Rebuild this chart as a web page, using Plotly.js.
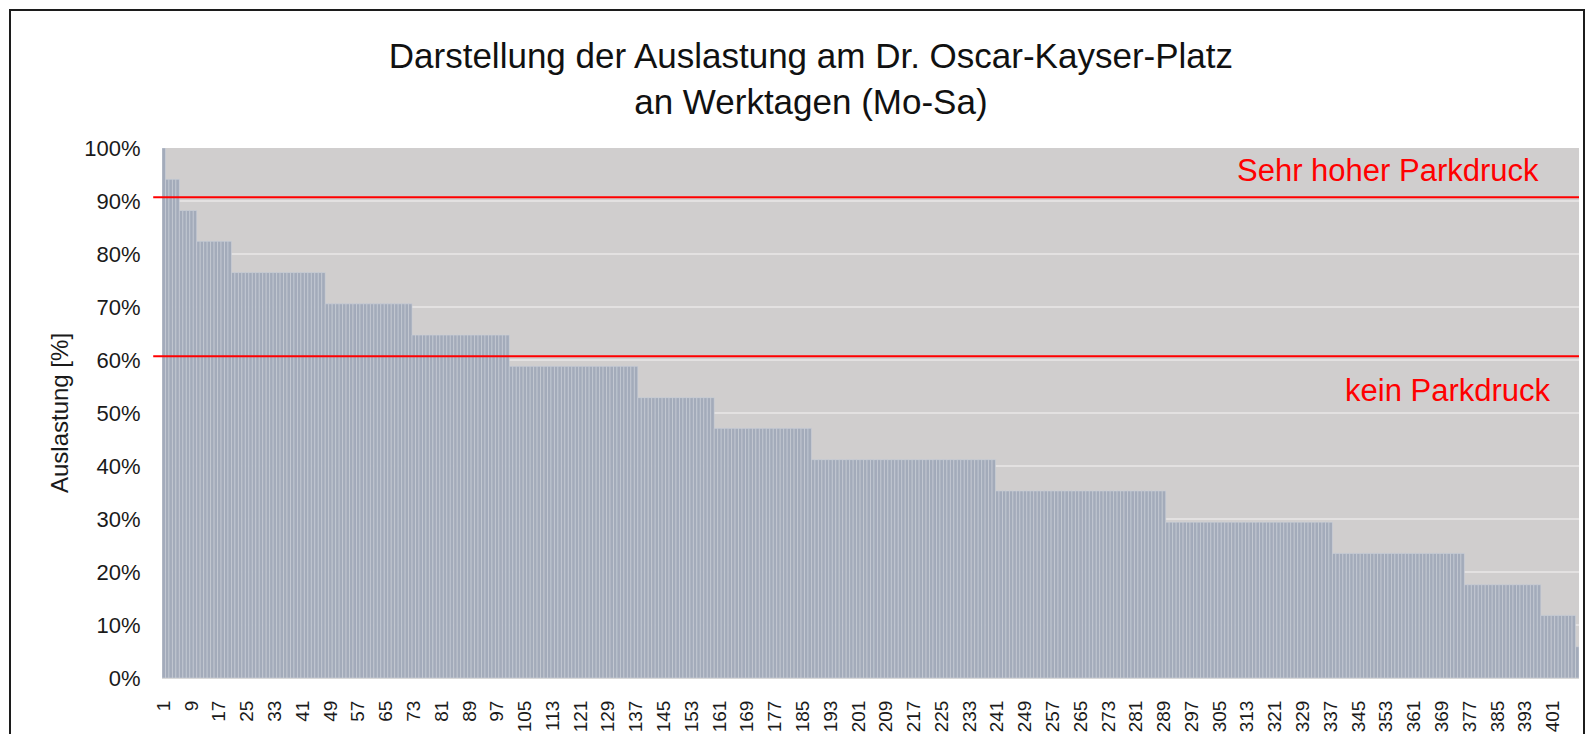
<!DOCTYPE html>
<html>
<head>
<meta charset="utf-8">
<script src="https://cdn.plot.ly/plotly-3.0.1.min.js"></script>
<style>
  html, body { margin: 0; padding: 0; background: #ffffff; }
  #wrap { position: relative; width: 1590px; height: 734px; overflow: hidden; }
  #chart { position: absolute; left: 0; top: 0; width: 1590px; height: 734px; }
  #frame { position: absolute; left: 9px; top: 9px; width: 1576px; height: 760px;
           border: 2px solid #1c1c1c; pointer-events: none; box-sizing: border-box; }
</style>
</head>
<body>
<div id="wrap">
  <div id="chart"></div>
  <div id="frame"></div>
</div>
<script>
const values = [
  100,
  94.1, 94.1, 94.1, 94.1,
  88.2, 88.2, 88.2, 88.2, 88.2,
  82.4, 82.4, 82.4, 82.4, 82.4, 82.4, 82.4, 82.4, 82.4, 82.4,
  76.5, 76.5, 76.5, 76.5, 76.5, 76.5, 76.5, 76.5, 76.5, 76.5,
  76.5, 76.5, 76.5, 76.5, 76.5, 76.5, 76.5, 76.5, 76.5, 76.5,
  76.5, 76.5, 76.5, 76.5, 76.5, 76.5, 76.5,
  70.6, 70.6, 70.6, 70.6, 70.6, 70.6, 70.6, 70.6, 70.6, 70.6,
  70.6, 70.6, 70.6, 70.6, 70.6, 70.6, 70.6, 70.6, 70.6, 70.6,
  70.6, 70.6, 70.6, 70.6, 70.6,
  64.7, 64.7, 64.7, 64.7, 64.7, 64.7, 64.7, 64.7, 64.7, 64.7,
  64.7, 64.7, 64.7, 64.7, 64.7, 64.7, 64.7, 64.7, 64.7, 64.7,
  64.7, 64.7, 64.7, 64.7, 64.7, 64.7, 64.7, 64.7,
  58.8, 58.8, 58.8, 58.8, 58.8, 58.8, 58.8, 58.8, 58.8, 58.8,
  58.8, 58.8, 58.8, 58.8, 58.8, 58.8, 58.8, 58.8, 58.8, 58.8,
  58.8, 58.8, 58.8, 58.8, 58.8, 58.8, 58.8, 58.8, 58.8, 58.8,
  58.8, 58.8, 58.8, 58.8, 58.8, 58.8, 58.8,
  52.9, 52.9, 52.9, 52.9, 52.9, 52.9, 52.9, 52.9, 52.9, 52.9,
  52.9, 52.9, 52.9, 52.9, 52.9, 52.9, 52.9, 52.9, 52.9, 52.9,
  52.9, 52.9,
  47.1, 47.1, 47.1, 47.1, 47.1, 47.1, 47.1, 47.1, 47.1, 47.1,
  47.1, 47.1, 47.1, 47.1, 47.1, 47.1, 47.1, 47.1, 47.1, 47.1,
  47.1, 47.1, 47.1, 47.1, 47.1, 47.1, 47.1, 47.1,
  41.2, 41.2, 41.2, 41.2, 41.2, 41.2, 41.2, 41.2, 41.2, 41.2,
  41.2, 41.2, 41.2, 41.2, 41.2, 41.2, 41.2, 41.2, 41.2, 41.2,
  41.2, 41.2, 41.2, 41.2, 41.2, 41.2, 41.2, 41.2, 41.2, 41.2,
  41.2, 41.2, 41.2, 41.2, 41.2, 41.2, 41.2, 41.2, 41.2, 41.2,
  41.2, 41.2, 41.2, 41.2, 41.2, 41.2, 41.2, 41.2, 41.2, 41.2,
  41.2, 41.2, 41.2,
  35.3, 35.3, 35.3, 35.3, 35.3, 35.3, 35.3, 35.3, 35.3, 35.3,
  35.3, 35.3, 35.3, 35.3, 35.3, 35.3, 35.3, 35.3, 35.3, 35.3,
  35.3, 35.3, 35.3, 35.3, 35.3, 35.3, 35.3, 35.3, 35.3, 35.3,
  35.3, 35.3, 35.3, 35.3, 35.3, 35.3, 35.3, 35.3, 35.3, 35.3,
  35.3, 35.3, 35.3, 35.3, 35.3, 35.3, 35.3, 35.3, 35.3,
  29.4, 29.4, 29.4, 29.4, 29.4, 29.4, 29.4, 29.4, 29.4, 29.4,
  29.4, 29.4, 29.4, 29.4, 29.4, 29.4, 29.4, 29.4, 29.4, 29.4,
  29.4, 29.4, 29.4, 29.4, 29.4, 29.4, 29.4, 29.4, 29.4, 29.4,
  29.4, 29.4, 29.4, 29.4, 29.4, 29.4, 29.4, 29.4, 29.4, 29.4,
  29.4, 29.4, 29.4, 29.4, 29.4, 29.4, 29.4, 29.4,
  23.5, 23.5, 23.5, 23.5, 23.5, 23.5, 23.5, 23.5, 23.5, 23.5,
  23.5, 23.5, 23.5, 23.5, 23.5, 23.5, 23.5, 23.5, 23.5, 23.5,
  23.5, 23.5, 23.5, 23.5, 23.5, 23.5, 23.5, 23.5, 23.5, 23.5,
  23.5, 23.5, 23.5, 23.5, 23.5, 23.5, 23.5, 23.5,
  17.6, 17.6, 17.6, 17.6, 17.6, 17.6, 17.6, 17.6, 17.6, 17.6,
  17.6, 17.6, 17.6, 17.6, 17.6, 17.6, 17.6, 17.6, 17.6, 17.6,
  17.6, 17.6,
  11.8, 11.8, 11.8, 11.8, 11.8, 11.8, 11.8, 11.8, 11.8, 11.8,
  5.9
];

// category numbers (observation index 1..N)
const categories = values.map((v, i) => i + 1);

// x tick labels shown on the axis
const tickLabels = ["1","9","17","25","33","41","49","57","65","73","81","89","97",
  "105","113","121","129","137","145","153","161","169","177","185","193","201",
  "209","217","225","233","241","249","257","265","273","281","289","297","305",
  "313","321","329","337","345","353","361","369","377","385","393","401"];
const tickVals = tickLabels.map(Number);

// threshold lines and their labels
const thresholdValues = [90.7, 60.7];
const thresholdLabels = ["Sehr hoher Parkdruck", "kein Parkdruck"];
const thresholdLabelY = [95.8, 54.3];
const thresholdLabelX = [0.973, 0.982];

const FONT = "Liberation Sans, Arial, sans-serif";

const trace = {
  type: "bar",
  x: categories,
  y: values,
  marker: { color: "#a3abba", line: { color: "#ccd1da", width: 0.6 } },
  hoverinfo: "x+y"
};

const shapes = thresholdValues.map(v => ({
  type: "line", xref: "paper", yref: "y",
  x0: -0.0062, x1: 1, y0: v, y1: v,
  line: { color: "#ff0000", width: 2 }
}));

const annotations = thresholdLabels.map((t, i) => ({
  text: t, xref: "paper", yref: "y",
  x: thresholdLabelX[i], y: thresholdLabelY[i],
  xanchor: "right", yanchor: "middle", showarrow: false,
  font: { family: FONT, size: 31, color: "#ff0000" }
}));

const layout = {
  width: 1590, height: 734,
  paper_bgcolor: "#ffffff",
  plot_bgcolor: "#d0cece",
  showlegend: false,
  bargap: 0,
  margin: { l: 161.5, r: 10.5, t: 148, b: 56, pad: 0 },
  title: {
    text: "Darstellung der Auslastung am Dr. Oscar-Kayser-Platz<br>an Werktagen (Mo-Sa)",
    xref: "container", yref: "container",
    x: 0.51, xanchor: "center",
    y: 1 - 68 / 734, yanchor: "middle",
    font: { family: FONT, size: 35, color: "#111111" }
  },
  xaxis: {
    type: "linear",
    range: [0.5, values.length + 0.5],
    tickmode: "array", tickvals: tickVals, ticktext: tickLabels,
    tickangle: -90,
    tickfont: { family: FONT, size: 19, color: "#1a1a1a" },
    ticks: "outside", ticklen: 14, tickcolor: "rgba(0,0,0,0)",
    showgrid: false, zeroline: false,
    showline: true, linecolor: "#d9d9d9", linewidth: 1,
    fixedrange: true
  },
  yaxis: {
    range: [0, 100],
    tickmode: "linear", tick0: 0, dtick: 10, ticksuffix: "%",
    tickfont: { family: FONT, size: 22, color: "#1a1a1a" },
    ticks: "outside", ticklen: 16, tickcolor: "rgba(0,0,0,0)",
    showgrid: true, gridcolor: "#e3e1e1", gridwidth: 2,
    zeroline: false, showline: false,
    title: { text: "Auslastung [%]", standoff: 8,
             font: { family: FONT, size: 24, color: "#1a1a1a" } },
    fixedrange: true
  },
  shapes: shapes,
  annotations: annotations
};

Plotly.newPlot("chart", [trace], layout, { displayModeBar: false, staticPlot: true });
</script>
</body>
</html>
